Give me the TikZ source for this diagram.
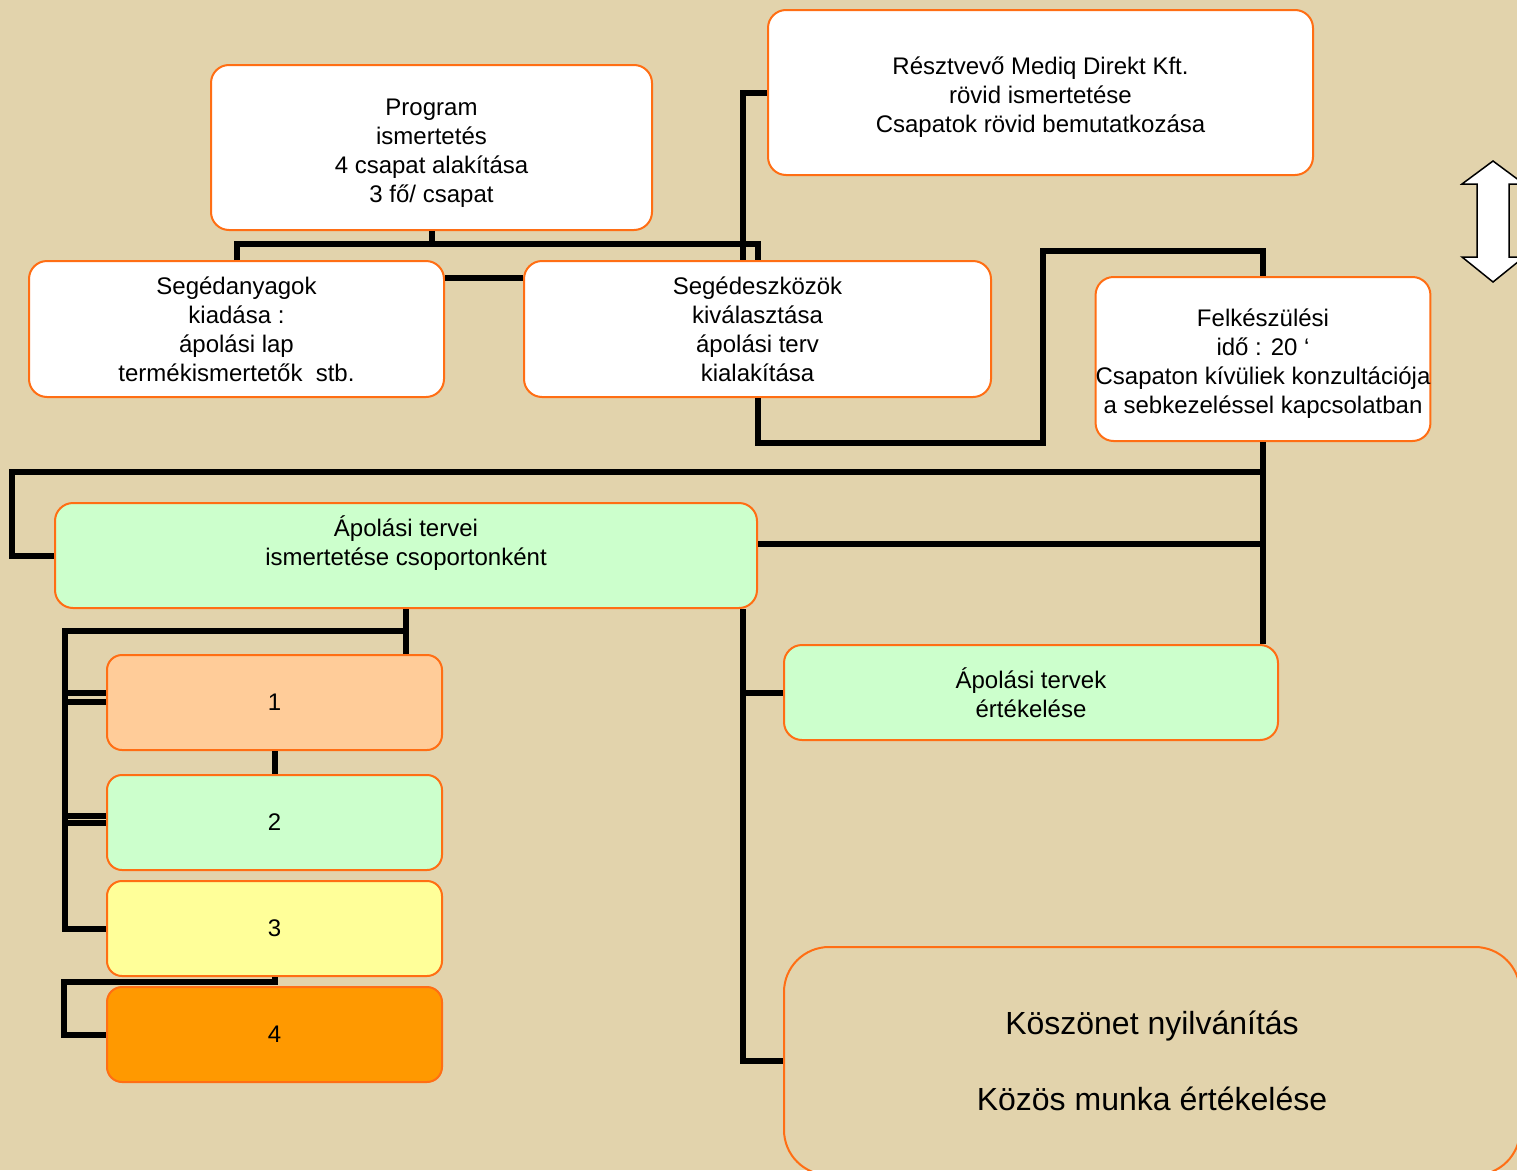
\documentclass[tikz,border=0pt]{standalone}
\usepackage{fontspec}
\setmainfont{Liberation Sans}
\definecolor{bg}{RGB}{226,211,172}
\definecolor{edge}{RGB}{255,110,20}
\definecolor{lightgreen}{RGB}{204,255,204}
\definecolor{peach}{RGB}{255,204,153}
\definecolor{lightyellow}{RGB}{255,255,153}
\definecolor{deeporange}{RGB}{255,153,0}
\newcommand{\droptext}{\rule{0pt}{27pt}}
\tikzset{
  box/.style={draw=edge, line width=2pt, rounded corners=18pt, fill=white,
    align=center, inner sep=0pt, font=\fontsize{24}{29}\selectfont},
  team/.style={box, rounded corners=15pt, minimum width=335pt, minimum height=95pt},
  link/.style={line width=6pt},
}
\begin{document}
\begin{tikzpicture}[x=1pt, y=-1pt]
    \clip (0,0) rectangle (1517,1170);
    \fill[bg] (0,0) rectangle (1517,1170);

    \node[box, minimum width=441pt, minimum height=165pt] (prog) at (431.5,147.5)
        {\droptext Program\\ismertetés\\4 csapat alakítása\\3 fő/ csapat};
    \node[box, minimum width=545pt, minimum height=165pt] (resz) at (1040.5,92.5)
        {\droptext Résztvevő Mediq Direkt Kft.\\rövid ismertetése\\Csapatok rövid bemutatkozása};
    \node[box, minimum width=415pt, minimum height=136pt] (segany) at (236.5,329)
        {Segédanyagok\\kiadása :\\ápolási lap\\termékismertetők\ \ stb.};
    \node[box, minimum width=467pt, minimum height=136pt] (segesz) at (757.5,329)
        {Segédeszközök\\kiválasztása\\ápolási terv\\kialakítása};
    \node[box, minimum width=334pt, minimum height=164pt] (felk) at (1263,359)
        {\droptext Felkészülési\\idő : 20 ‘\\Csapaton kívüliek konzultációja\\a sebkezeléssel kapcsolatban};
    \node[box, fill=lightgreen, minimum width=702pt, minimum height=105pt] (apt) at (406,555.5)
        {Ápolási tervei\\ismertetése csoportonként\\\mbox{}};
    \node[box, fill=lightgreen, minimum width=494pt, minimum height=95pt] (apert) at (1031,692.5)
        {Ápolási tervek\\értékelése};
    \node[team, fill=peach] (g1) at (274.5,702.5) {1};
    \node[team, fill=lightgreen] (g2) at (274.5,822.5) {2};
    \node[team, fill=lightyellow] (g3) at (274.5,928.5) {3};
    \node[team, fill=deeporange] (g4) at (274.5,1034.5) {4};
    \node[box, fill=none, rounded corners=45pt, minimum width=736pt, minimum height=228pt,
        font=\fontsize{32}{38}\selectfont] (kosz) at (1152,1061)
        {Köszönet nyilvánítás\\[38pt]Közös munka értékelése};

    \coordinate (bend) at (1043,443);
    \coordinate (lt) at (12,472);
    \coordinate (gl) at (65,631);

    \draw[link] (prog.south) -- ++(0,15);
    \draw[link] (segany.north) |- ([yshift=16pt]segesz.north) -- (segesz.north);
    \draw[link] (resz.west) -| ([xshift=-15pt]segesz.north);
    \draw[link] ([yshift=51pt]segany.east) -- ([yshift=51pt]segesz.west);
    \draw[link] (segesz.south) |- (bend) |- ([yshift=25pt]felk.north) -- (felk.north);
    \draw[link] (felk.south) -- (felk.south |- apert.north);
    \draw[link] (felk.south |- lt) -- (lt) |- (apt.west);
    \draw[link] ([yshift=12pt]apt.east) -- ++(506,0);
    \draw[link] (apt.south) -- (apt.south |- g1.north);
    \draw[link] (apt.south |- gl) -- (gl) |- (g3.west);
    \draw[link] ([yshift=10pt]g1.west) -- ++(-42,0);
    \draw[link] ([yshift=1pt]g1.west) -- ++(-42,0);
    \draw[link] ([yshift=7pt]g2.west) -- ++(-42,0);
    \draw[link] (g2.west) -- ++(-42,0);
    \draw[link] (g1.south) -- (g2.north);
    \draw[link] (g3.south) -- ++(0,5) -| ([xshift=-42pt]g4.west) -- (g4.west);
    \draw[link] ([xshift=-15pt]apt.south east) |- (kosz.west);
    \draw[link] (apert.west) -- ++(-42,0);

    \draw[fill=white, line width=1.5pt] (1493,161) -- (1524,184) -- (1509,184) -- (1509,257)
        -- (1524,257) -- (1493,282) -- (1462,257) -- (1477,257) -- (1477,184) -- (1462,184) -- cycle;
\end{tikzpicture}
\end{document}
